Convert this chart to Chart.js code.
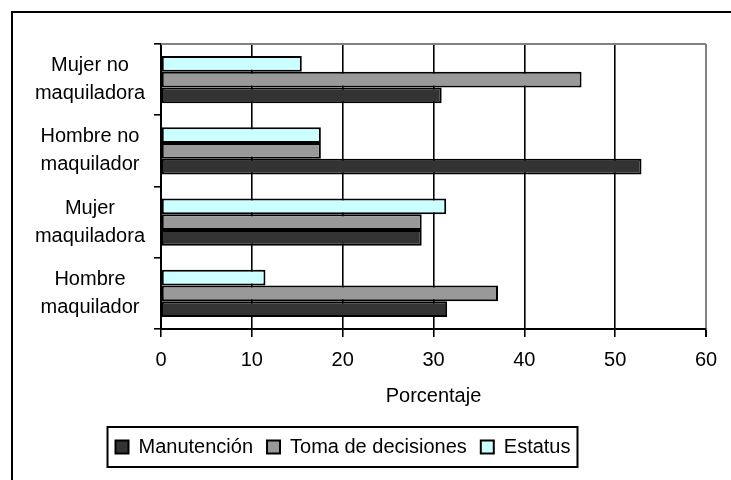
<!DOCTYPE html>
<html>
<head>
<meta charset="utf-8">
<script src="https://cdn.jsdelivr.net/npm/chart.js@4"></script>
<style>
  html, body { margin: 0; padding: 0; background: #fff; overflow: hidden; }
  #wrap { position: relative; width: 731px; height: 480px; }
  #frame { position: absolute; left: 11px; top: 11px; width: 800px; height: 600px;
           border-left: 2px solid #000; border-top: 2px solid #000; }
  canvas { position: absolute; left: 0; top: 0; }
</style>
</head>
<body>
<div id="wrap">
  <div id="frame"></div>
  <canvas id="chart" width="731" height="480"></canvas>
</div>
<script>
// Datos (de arriba hacia abajo, como en el original)
const categorias = [
    ['Mujer no', 'maquiladora'],
    ['Hombre no', 'maquilador'],
    ['Mujer', 'maquiladora'],
    ['Hombre', 'maquilador']
];
const manutencion = [30.9, 52.9, 28.7, 31.5];
const tomaDecisiones = [46.3, 17.6, 28.7, 37.1];
const estatus = [15.5, 17.6, 31.4, 11.5];
const ejeX = [0, 10, 20, 30, 40, 50, 60];

const fuente = { family: "'Liberation Sans', Arial, sans-serif", size: 20 };

// Marco de la leyenda y borde superior del área de trazado
const bordes = {
    id: 'bordes',
    beforeDatasetsDraw(chart) {
        const { ctx, chartArea } = chart;
        ctx.save();
        ctx.strokeStyle = '#808080';
        ctx.lineWidth = 2;
        ctx.beginPath();
        ctx.moveTo(chartArea.left, chartArea.top);
        ctx.lineTo(chartArea.right, chartArea.top);
        ctx.stroke();
        ctx.restore();
    },
    afterDraw(chart) {
        const boxes = chart.legend.legendHitBoxes;
        if (!boxes || !boxes.length) return;
        const left = Math.min(...boxes.map(b => b.left));
        const right = Math.max(...boxes.map(b => b.left + b.width));
        const cy = boxes[0].top + boxes[0].height / 2;
        const ctx = chart.ctx;
        ctx.save();
        ctx.strokeStyle = '#000';
        ctx.lineWidth = 2;
        ctx.strokeRect(left - 8, cy - 20, right - left + 15, 40);
        ctx.restore();
    }
};

const PAD_LEFT = -20;

new Chart(document.getElementById('chart').getContext('2d'), {
    type: 'bar',
    data: {
        labels: categorias,
        datasets: [
            { label: 'Estatus', data: estatus, backgroundColor: '#CCFFFF' },
            { label: 'Toma de decisiones', data: tomaDecisiones, backgroundColor: '#999999' },
            { label: 'Manutención', data: manutencion, backgroundColor: '#333333' }
        ].map(d => Object.assign(d, { borderColor: '#000', borderWidth: 2, borderSkipped: false }))
    },
    options: {
        indexAxis: 'y',
        responsive: false,
        animation: false,
        categoryPercentage: 0.66,
        barPercentage: 1,
        layout: { padding: { top: 44, left: PAD_LEFT, right: 25, bottom: 13 } },
        scales: {
            x: {
                min: 0,
                max: 60,
                afterBuildTicks: (scale) => { scale.ticks = ejeX.map(v => ({ value: v })); },
                border: { color: '#000', width: 2 },
                grid: {
                    color: (c) => c.tick && c.tick.value === 60 ? '#808080' : '#000',
                    lineWidth: (c) => c.tick && c.tick.value === 60 ? 2 : 1.6,
                    tickColor: '#000',
                    tickLength: 8
                },
                ticks: { color: '#000', font: fuente, padding: 11, maxRotation: 0 },
                title: {
                    display: true,
                    text: 'Porcentaje',
                    color: '#000',
                    font: fuente,
                    padding: { top: 1, bottom: 15 }
                }
            },
            y: {
                border: { color: '#000', width: 2 },
                grid: { offset: true, drawOnChartArea: false, color: '#000', tickLength: 7, lineWidth: 1.6 },
                ticks: {
                    color: '#000',
                    font: Object.assign({ lineHeight: 1.4 }, fuente),
                    crossAlign: 'center',
                    padding: 9
                },
                afterFit: (scale) => { scale.width = 161 - PAD_LEFT; }
            }
        },
        plugins: {
            legend: {
                position: 'bottom',
                reverse: true,
                labels: {
                    color: '#000',
                    font: fuente,
                    boxWidth: 13,
                    boxHeight: 13,
                    padding: 14
                }
            },
            tooltip: { enabled: false }
        }
    },
    plugins: [bordes]
});
</script>
</body>
</html>
